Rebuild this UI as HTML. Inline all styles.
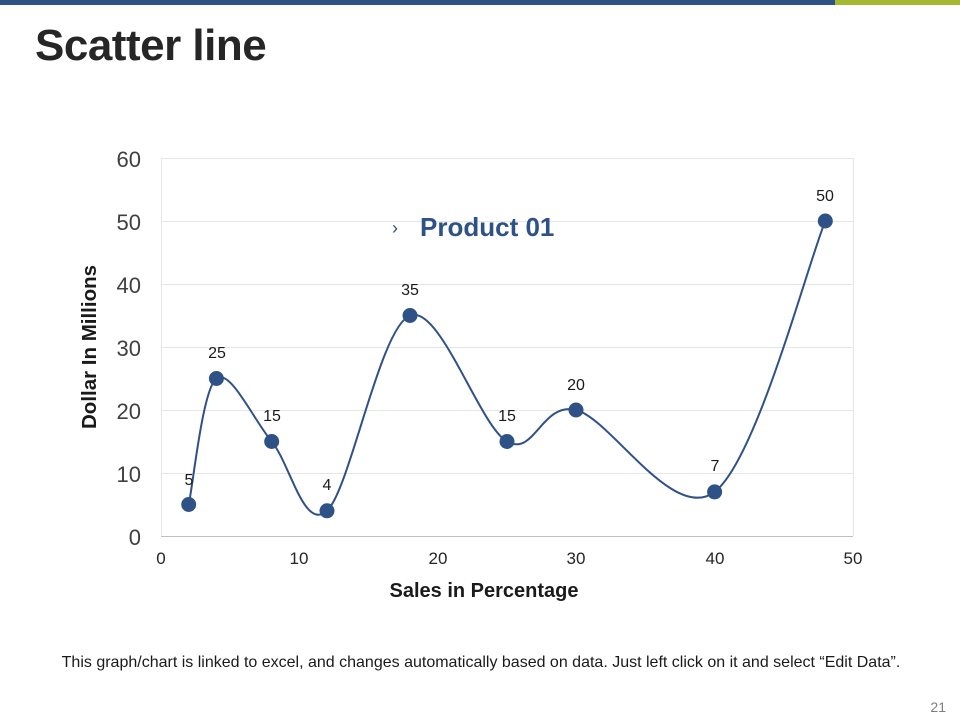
<!DOCTYPE html>
<html><head><meta charset="utf-8"><style>
body{margin:0;width:960px;height:720px;background:#fff;font-family:"Liberation Sans",Arial,sans-serif;overflow:hidden;position:relative}
</style></head><body>
<div style="position:absolute;left:0;top:0;width:835px;height:5px;background:#2f5286"></div>
<div style="position:absolute;left:835px;top:0;width:125px;height:5px;background:#a4b832"></div>
<div style="position:absolute;left:35px;top:21px;font-size:44px;font-weight:bold;color:#262626;letter-spacing:-0.5px">Scatter line</div>
<svg width="960" height="720" style="position:absolute;left:0;top:0" font-family="Liberation Sans, Arial, sans-serif">
<g stroke="#e6e6e6" stroke-width="1">
<line x1="161" y1="158.5" x2="853" y2="158.5"/>
<line x1="161" y1="221.5" x2="853" y2="221.5"/>
<line x1="161" y1="284.5" x2="853" y2="284.5"/>
<line x1="161" y1="347.5" x2="853" y2="347.5"/>
<line x1="161" y1="410.5" x2="853" y2="410.5"/>
<line x1="161" y1="473.5" x2="853" y2="473.5"/>
<line x1="161.5" y1="158" x2="161.5" y2="536"/>
<line x1="853.5" y1="158" x2="853.5" y2="536"/>
</g>
<line x1="161" y1="536.5" x2="853" y2="536.5" stroke="#bfbfbf"/>
<g font-size="22" fill="#404040" text-anchor="end">
<text x="141" y="167">60</text><text x="141" y="230">50</text><text x="141" y="293">40</text>
<text x="141" y="356">30</text><text x="141" y="419">20</text><text x="141" y="482">10</text><text x="141" y="545">0</text>
</g>
<g font-size="17" fill="#262626" text-anchor="middle">
<text x="161" y="564">0</text><text x="299" y="564">10</text><text x="438" y="564">20</text>
<text x="576" y="564">30</text><text x="715" y="564">40</text><text x="853" y="564">50</text>
</g>
<text x="484" y="597" font-size="20" font-weight="bold" fill="#1a1a1a" text-anchor="middle">Sales in Percentage</text>
<text transform="translate(96,347) rotate(-90)" font-size="20.5" font-weight="bold" fill="#1a1a1a" text-anchor="middle">Dollar In Millions</text>
<path d="M188.7,504.5 C193.3,483.5 202.6,389 216.4,378.5 C230.2,368 253.3,419.5 271.7,441.5 C290.1,463.6 304,531.8 327,510.8 C350,489.8 380,327 410,315.5 C440,304 479.3,425.75 507,441.5 C534.7,457.25 541.4,401.6 576,410 C610.6,418.4 673,523.4 714.6,491.9 C756.2,460.4 806.9,266.2 825.3,221" fill="none" stroke="#2f5286" stroke-width="2"/>
<g fill="#2f5286">
<circle cx="188.7" cy="504.5" r="7.5"/><circle cx="216.4" cy="378.5" r="7.5"/><circle cx="271.7" cy="441.5" r="7.5"/>
<circle cx="327" cy="510.8" r="7.5"/><circle cx="410" cy="315.5" r="7.5"/><circle cx="507" cy="441.5" r="7.5"/>
<circle cx="576" cy="410" r="7.5"/><circle cx="714.6" cy="491.9" r="7.5"/><circle cx="825.3" cy="221" r="7.5"/>
</g>
<g font-size="16" fill="#1a1a1a" text-anchor="middle">
<text x="189" y="485">5</text><text x="217" y="358">25</text><text x="272" y="421">15</text>
<text x="327" y="490">4</text><text x="410" y="295">35</text><text x="507" y="421">15</text>
<text x="576" y="390">20</text><text x="715" y="471">7</text><text x="825" y="201">50</text>
</g>
<text x="392" y="234" font-size="18" fill="#2f5286">›</text>
<text x="420" y="236" font-size="26" font-weight="bold" fill="#2f5286">Product 01</text>
<text x="481" y="667" font-size="16" fill="#1a1a1a" text-anchor="middle">This graph/chart is linked to excel, and changes automatically based on data. Just left click on it and select “Edit Data”.</text>
<text x="946" y="712" font-size="14" fill="#7f7f7f" text-anchor="end">21</text>
</svg>
</body></html>
